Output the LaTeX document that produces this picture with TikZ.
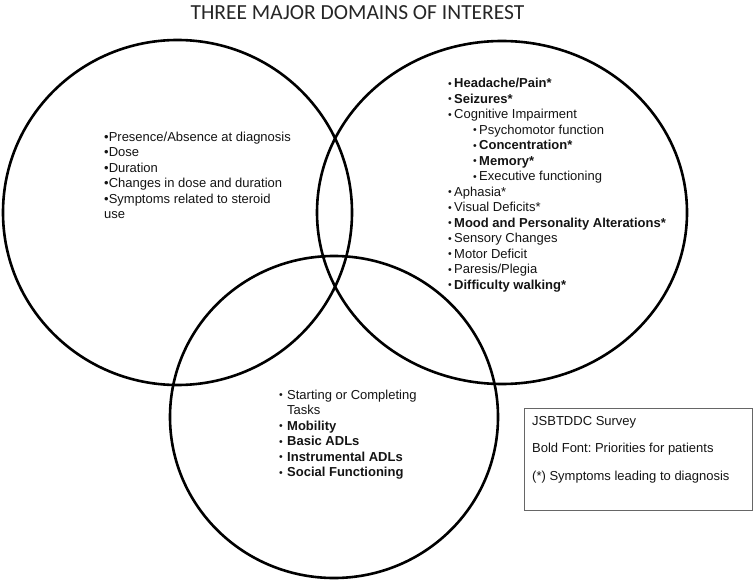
\documentclass[tikz,border=0pt]{standalone}
\usepackage{fontspec}
\setmainfont{Liberation Sans}
\newfontfamily\titlefont{Carlito}
\usetikzlibrary{shapes.geometric}
\frenchspacing
\newcommand{\rbul}[1]{\makebox[#1][l]{\fontsize{10.5}{10.5}\selectfont\raisebox{0.6pt}{•}}}
\tikzset{
  domainshape/.style={ellipse, draw=black, line width=2.6pt, inner sep=0pt, outer sep=0pt},
  listtext/.style={anchor=north west, align=left, inner sep=0pt, text=black!92, font=\fontsize{13}{15.5}\selectfont},
}
\begin{document}
\begin{tikzpicture}[x=1pt,y=-1pt]
\useasboundingbox (0,0) rectangle (755,580);
\fill[white] (0,0) rectangle (755,580);
\node[font=\titlefont\fontsize{21.5}{25}\selectfont, text=black!85, inner sep=0pt] (title) at (357.5,13) {THREE MAJOR DOMAINS OF INTEREST};

\node[domainshape, minimum width=349pt, minimum height=345pt] (steroid) at (177.5,212.5) {};
\node[domainshape, minimum width=370pt, minimum height=343pt] (symptoms) at (502,212.5) {};
\node[domainshape, minimum width=328pt, minimum height=322pt] (function) at (334,417) {};

\node[listtext] (steroidlist) at (104,131.5) {•Presence/Absence at diagnosis\\ •Dose\\ •Duration\\ •Changes in dose and duration\\ •Symptoms related to steroid\\ use};

\node[listtext] (symlist) at (448,78) {\rbul{6pt}\textbf{Headache/Pain*}\\
\rbul{6pt}\textbf{Seizures*}\\
\rbul{6pt}Cognitive Impairment\\
\hspace*{25pt}\rbul{6pt}Psychomotor function\\
\hspace*{25pt}\rbul{6pt}\textbf{Concentration*}\\
\hspace*{25pt}\rbul{6pt}\textbf{Memory*}\\
\hspace*{25pt}\rbul{6pt}Executive functioning\\
\rbul{6pt}Aphasia*\\
\rbul{6pt}Visual Deficits*\\
\rbul{6pt}\textbf{Mood and Personality Alterations*}\\
\rbul{6pt}Sensory Changes\\
\rbul{6pt}Motor Deficit\\
\rbul{6pt}Paresis/Plegia\\
\rbul{6pt}\textbf{Difficulty walking*}};

\node[listtext] (funclist) at (279,389.5) {\rbul{8pt}Starting or Completing\\
\hspace*{8pt}Tasks\\
\rbul{8pt}\textbf{Mobility}\\
\rbul{8pt}\textbf{Basic ADLs}\\
\rbul{8pt}\textbf{Instrumental ADLs}\\
\rbul{8pt}\textbf{Social Functioning}};

\node[draw=black!60, line width=0.8pt, minimum width=228pt, minimum height=102pt, anchor=north west, inner sep=0pt] (legend) at (524,407.7) {};
\node[anchor=north west, align=left, inner sep=0pt, text=black!92, font=\fontsize{13}{27.5}\selectfont] (legendtext) at (532,416) {JSBTDDC Survey\\ Bold Font: Priorities for patients\\ (*) Symptoms leading to diagnosis};
\end{tikzpicture}
\end{document}
